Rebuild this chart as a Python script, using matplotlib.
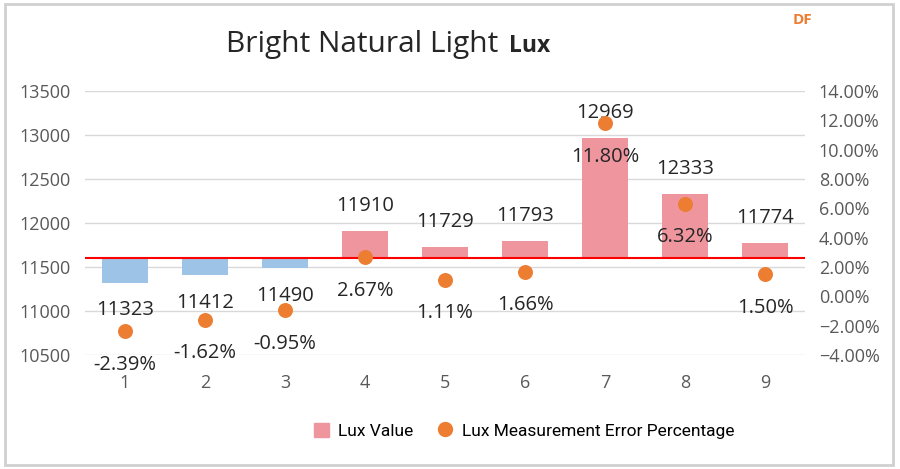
import numpy as np
import matplotlib.pyplot as plt
from matplotlib.patches import Rectangle, Patch
from matplotlib.lines import Line2D
from matplotlib.ticker import PercentFormatter

# dados
samples = ["1", "2", "3", "4", "5", "6", "7", "8", "9"]
lux = [11323, 11412, 11490, 11910, 11729, 11793, 12969, 12333, 11774]
erro_pct = [-2.39, -1.62, -0.95, 2.67, 1.11, 1.66, 11.80, 6.32, 1.50]
referencia = 11600

cor_pos = "#EE959E"
cor_neg = "#9DC3E6"
cor_ponto = "#ED7D31"
cinza = "#595959"

plt.rcParams['font.family'] = ['Open Sans', 'DejaVu Sans']

fig = plt.figure(figsize=(9, 4.69), dpi=100)
ax = fig.add_axes([85/900, 1-355/469, 720/900, 264/469])
ax2 = ax.twinx()

x = np.arange(1, len(samples) + 1)
alturas = np.array(lux) - referencia
cores = [cor_pos if h > 0 else cor_neg for h in alturas]
ax.bar(x, alturas, bottom=referencia, width=0.57, color=cores, zorder=2)
ax.axhline(referencia, color="#FF0000", lw=1.5, zorder=3)

ax.set_xlim(0.5, 9.5)
ax.set_ylim(10500, 13500)
ax.set_yticks(np.arange(10500, 13501, 500))
ax.grid(axis="y", color="#D9D9D9", lw=1, zorder=0)
ax.set_axisbelow(True)
ax.set_xticks(x)
ax.set_xticklabels(samples)
ax.tick_params(axis="x", length=0, pad=14, labelsize=13, labelcolor=cinza)
ax.tick_params(axis="y", length=0, pad=10, labelsize=13, labelcolor=cinza)

ax2.scatter(x, erro_pct, s=95, color=cor_ponto, zorder=4)
ax2.set_ylim(-4, 14)
ax2.set_yticks(np.arange(-4, 14.1, 2))
ax2.yaxis.set_major_formatter(PercentFormatter(decimals=2))
ax2.tick_params(axis="y", length=0, pad=10, labelsize=13, labelcolor=cinza)

for a in (ax, ax2):
    for s in a.spines.values():
        s.set_visible(False)

# rótulos
for xi, v, h in zip(x, lux, alturas):
    dy = 18 if h > 0 else -20
    ax.annotate(str(v), (xi, v), xytext=(0, dy), textcoords="offset points",
                ha="center", va="center", fontsize=14.5, color="#262626", zorder=5)
for xi, p in zip(x, erro_pct):
    ax2.annotate(f"{p:.2f}%", (xi, p), xytext=(0, -24), textcoords="offset points",
                 ha="center", va="center", fontsize=14.5, color="#262626", zorder=5)

# título
fig.text(226/900, 1-52/469, "Bright Natural Light", fontsize=21.5, color="#262626",
         ha="left", va="baseline")
fig.text(509/900, 1-52/469, "Lux", fontsize=16.5, fontweight="bold", color="#262626",
         ha="left", va="baseline")
fig.text(793/900, 1-24/469, "DF", fontsize=11, fontweight="bold", color="#ED7D31",
         ha="left", va="baseline")

# legenda
handles = [Patch(color=cor_pos, label="Lux Value"),
           Line2D([], [], marker="o", ls="", color=cor_ponto, markersize=10,
                  label="Lux Measurement Error Percentage")]
fig.legend(handles=handles, loc="center", bbox_to_anchor=(524/900, 1-431/469),
           ncol=2, frameon=False, handlelength=0.9, handleheight=0.9,
           handletextpad=0.5, columnspacing=1.4, prop={"family": "Roboto", "size": 12.5})

# moldura
fig.patches.append(Rectangle((5/900, 4/469), 888/900, 461/469, transform=fig.transFigure,
                             fill=False, edgecolor="#D0D0D0", lw=2))

fig.savefig("out.png", dpi=100)
